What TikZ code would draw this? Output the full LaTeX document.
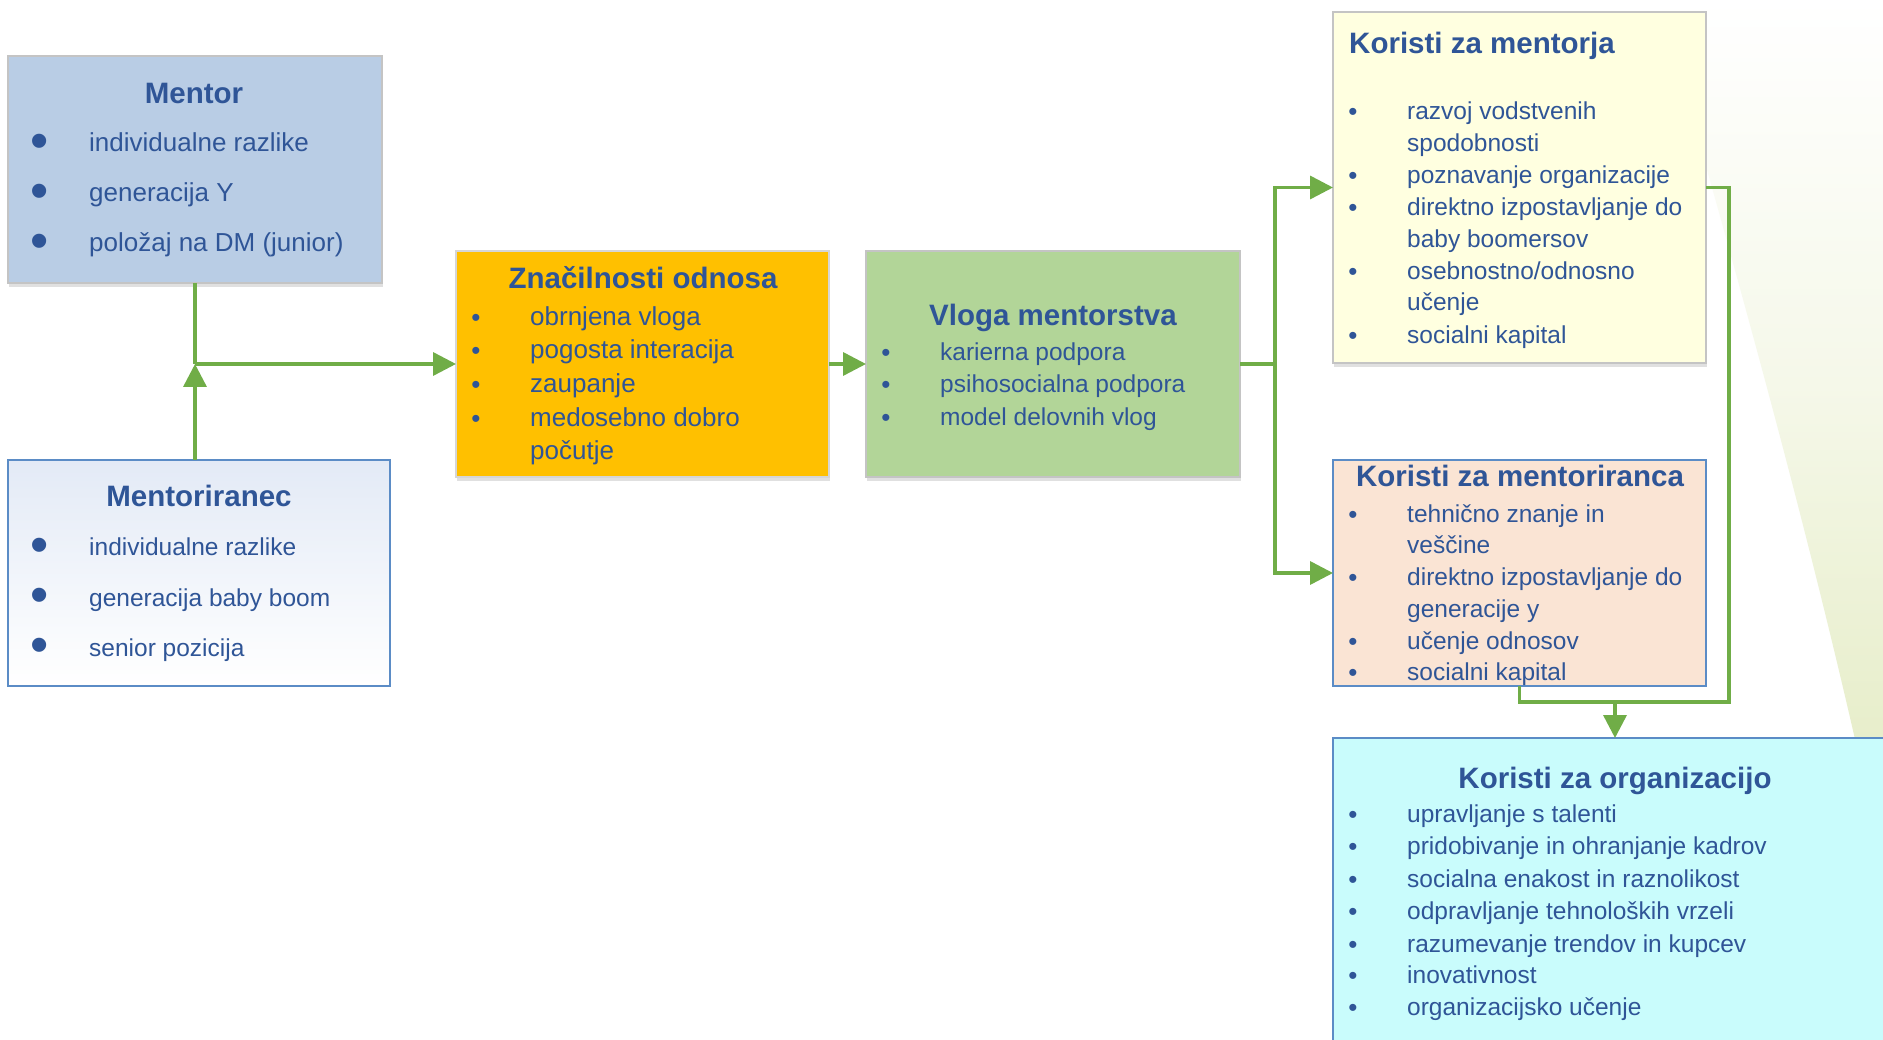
\documentclass[tikz,border=0pt]{standalone}
\usepackage{fontspec}
\setmainfont{Liberation Sans}
\usetikzlibrary{arrows.meta,shadows}
\definecolor{txtblue}{HTML}{2F5597}
\definecolor{arrgreen}{HTML}{70AD47}
\definecolor{mentorfill}{HTML}{B9CDE5}
\definecolor{greyborder}{HTML}{C4C4C4}
\definecolor{blueborder}{HTML}{5B8CC6}
\definecolor{menteetop}{HTML}{E3EAF6}
\definecolor{znacfill}{HTML}{FFC000}
\definecolor{vlogafill}{HTML}{B2D598}
\definecolor{mjafill}{HTML}{FFFFE0}
\definecolor{mrafill}{HTML}{FAE4D4}
\definecolor{orgfill}{HTML}{C9FCFC}
\definecolor{bggreen}{HTML}{E6EDC8}
\begin{document}
\begin{tikzpicture}[x=1pt,y=-1pt,
  box/.style={line width=2pt, inner sep=0pt, outer sep=0pt, anchor=north west},
  shd/.style={drop shadow={shadow xshift=1pt, shadow yshift=-4pt, opacity=0.12, fill=black}},
  ttl/.style={font=\fontsize{29.5}{34}\selectfont\bfseries, text=txtblue, inner sep=0pt, anchor=mid, yshift=-7pt},
  itm/.style={font=\fontsize{24.5}{28}\selectfont, text=txtblue, inner sep=0pt, anchor=mid west, yshift=-7pt},
  itmb/.style={itm, font=\fontsize{26}{30}\selectfont},
  bul/.style={font=\fontsize{26}{28}\selectfont, text=txtblue, inner sep=0pt, anchor=mid, yshift=-8pt},
  bigbul/.style={bul, font=\fontsize{52}{56}\selectfont, yshift=-7pt},
  conn/.style={draw=arrgreen, line width=3.5pt},
  arr/.style={conn, -{Triangle[length=23pt,width=23pt]}}]
\useasboundingbox (0,0) rectangle (1883,1040);
\clip (0,0) rectangle (1883,1040);
\fill[white] (0,0) rectangle (1883,1040);
% decorative background shape
\shade[top color=white, bottom color=bggreen, middle color=bggreen!40]
  (1660,0) .. controls (1700,150) and (1790,450) .. (1862,770)
  -- (1883,770) -- (1883,0) -- cycle;

% boxes
\node[box, shd, draw=greyborder, fill=mentorfill, minimum width=374pt, minimum height=227pt] (mentor) at (8,56) {};
\node[box, draw=blueborder, top color=menteetop, bottom color=white, minimum width=382pt, minimum height=226pt] (mentee) at (8,460) {};
\node[box, shd, draw=greyborder!70, fill=znacfill, minimum width=373pt, minimum height=226pt] (znac) at (456,251) {};
\node[box, shd, draw=greyborder, fill=vlogafill, minimum width=374pt, minimum height=226pt] (vloga) at (866,251) {};
\node[box, shd, draw=greyborder, fill=mjafill, minimum width=373pt, minimum height=351pt] (mja) at (1333,12) {};
\node[box, draw=blueborder, fill=mrafill, minimum width=373pt, minimum height=226pt] (mra) at (1333,460) {};
\node[box, draw=blueborder, fill=orgfill, minimum width=564pt, minimum height=340pt] (org) at (1333,738) {};

% Mentor
\node[ttl] (mentorT) at (194,94) {Mentor};
\node[bigbul] (mb1) at (40,141) {•};
\node[itmb] (mi1) at (89,142) {individualne razlike};
\node[bigbul] (mb2) at (40,191) {•};
\node[itmb] (mi2) at (89,192) {generacija Y};
\node[bigbul] (mb3) at (40,241) {•};
\node[itmb] (mi3) at (89,242) {položaj na DM (junior)};

% Mentoriranec
\node[ttl] (menteeT) at (199,497) {Mentoriranec};
\node[bigbul] (eb1) at (40,545) {•};
\node[itm] (ei1) at (89,546) {individualne razlike};
\node[bigbul] (eb2) at (40,595) {•};
\node[itm] (ei2) at (89,597) {generacija baby boom};
\node[bigbul] (eb3) at (40,645) {•};
\node[itm] (ei3) at (89,647) {senior pozicija};

% Znacilnosti odnosa
\node[ttl] (znacT) at (643,279) {Značilnosti odnosa};
\node[bul] (zb1) at (476,316) {•};
\node[itmb] (zi1) at (530,316) {obrnjena vloga};
\node[bul] (zb2) at (476,349) {•};
\node[itmb] (zi2) at (530,349) {pogosta interacija};
\node[bul] (zb3) at (476,383) {•};
\node[itmb] (zi3) at (530,383) {zaupanje};
\node[bul] (zb4) at (476,417) {•};
\node[itmb] (zi4) at (530,417) {medosebno dobro};
\node[itmb] (zi5) at (530,450) {počutje};

% Vloga mentorstva
\node[ttl] (vlogaT) at (1053,316) {Vloga mentorstva};
\node[bul] (vb1) at (886,351) {•};
\node[itm] (vi1) at (940,351) {karierna podpora};
\node[bul] (vb2) at (886,383) {•};
\node[itm] (vi2) at (940,383) {psihosocialna podpora};
\node[bul] (vb3) at (886,416) {•};
\node[itm] (vi3) at (940,416) {model delovnih vlog};

% Koristi za mentorja
\node[ttl, anchor=mid west] (mjaT) at (1349,44) {Koristi za mentorja};
\node[bul] (jb1) at (1353,110) {•};
\node[itm] (ji1) at (1407,110) {razvoj vodstvenih};
\node[itm] (ji2) at (1407,142) {spodobnosti};
\node[bul] (jb3) at (1353,174) {•};
\node[itm] (ji3) at (1407,174) {poznavanje organizacije};
\node[bul] (jb4) at (1353,206) {•};
\node[itm] (ji4) at (1407,206) {direktno izpostavljanje do};
\node[itm] (ji5) at (1407,238) {baby boomersov};
\node[bul] (jb6) at (1353,270) {•};
\node[itm] (ji6) at (1407,270) {osebnostno/odnosno};
\node[itm] (ji7) at (1407,301) {učenje};
\node[bul] (jb8) at (1353,334) {•};
\node[itm] (ji8) at (1407,334) {socialni kapital};

% Koristi za mentoriranca
\node[ttl] (mraT) at (1520,477) {Koristi za mentoriranca};
\node[bul] (rb1) at (1353,513) {•};
\node[itm] (ri1) at (1407,513) {tehnično znanje in};
\node[itm] (ri2) at (1407,544) {veščine};
\node[bul] (rb3) at (1353,576) {•};
\node[itm] (ri3) at (1407,576) {direktno izpostavljanje do};
\node[itm] (ri4) at (1407,608) {generacije y};
\node[bul] (rb5) at (1353,640) {•};
\node[itm] (ri5) at (1407,640) {učenje odnosov};
\node[bul] (rb6) at (1353,671) {•};
\node[itm] (ri6) at (1407,671) {socialni kapital};

% Koristi za organizacijo
\node[ttl] (orgT) at (1615,779) {Koristi za organizacijo};
\node[bul] (ob1) at (1353,813) {•};
\node[itm] (oi1) at (1407,813) {upravljanje s talenti};
\node[bul] (ob2) at (1353,845) {•};
\node[itm] (oi2) at (1407,845) {pridobivanje in ohranjanje kadrov};
\node[bul] (ob3) at (1353,878) {•};
\node[itm] (oi3) at (1407,878) {socialna enakost in raznolikost};
\node[bul] (ob4) at (1353,910) {•};
\node[itm] (oi4) at (1407,910) {odpravljanje tehnoloških vrzeli};
\node[bul] (ob5) at (1353,943) {•};
\node[itm] (oi5) at (1407,943) {razumevanje trendov in kupcev};
\node[bul] (ob6) at (1353,974) {•};
\node[itm] (oi6) at (1407,974) {inovativnost};
\node[bul] (ob7) at (1353,1006) {•};
\node[itm] (oi7) at (1407,1006) {organizacijsko učenje};

% connectors
\coordinate (j1) at (195,364);
\coordinate (j2) at (1275,364);
\coordinate (j3) at (1615,702);
\draw[conn] (mentor.south) -- (j1);
\draw[arr] (mentee.north -| j1) -- (j1);
\draw[arr] (j1) -- (znac.west |- j1);
\draw[arr] (znac.east) -- (vloga.west);
\draw[conn] (vloga.east) -- (j2);
\draw[arr] (j2) |- (mja.west);
\draw[arr] (j2) |- (mra.west);
\draw[conn] (mja.east) -- ++(23,0) |- (j3);
\draw[conn] (mra.south) |- (j3);
\draw[arr] (j3) -- (org.north);
\end{tikzpicture}
\end{document}
